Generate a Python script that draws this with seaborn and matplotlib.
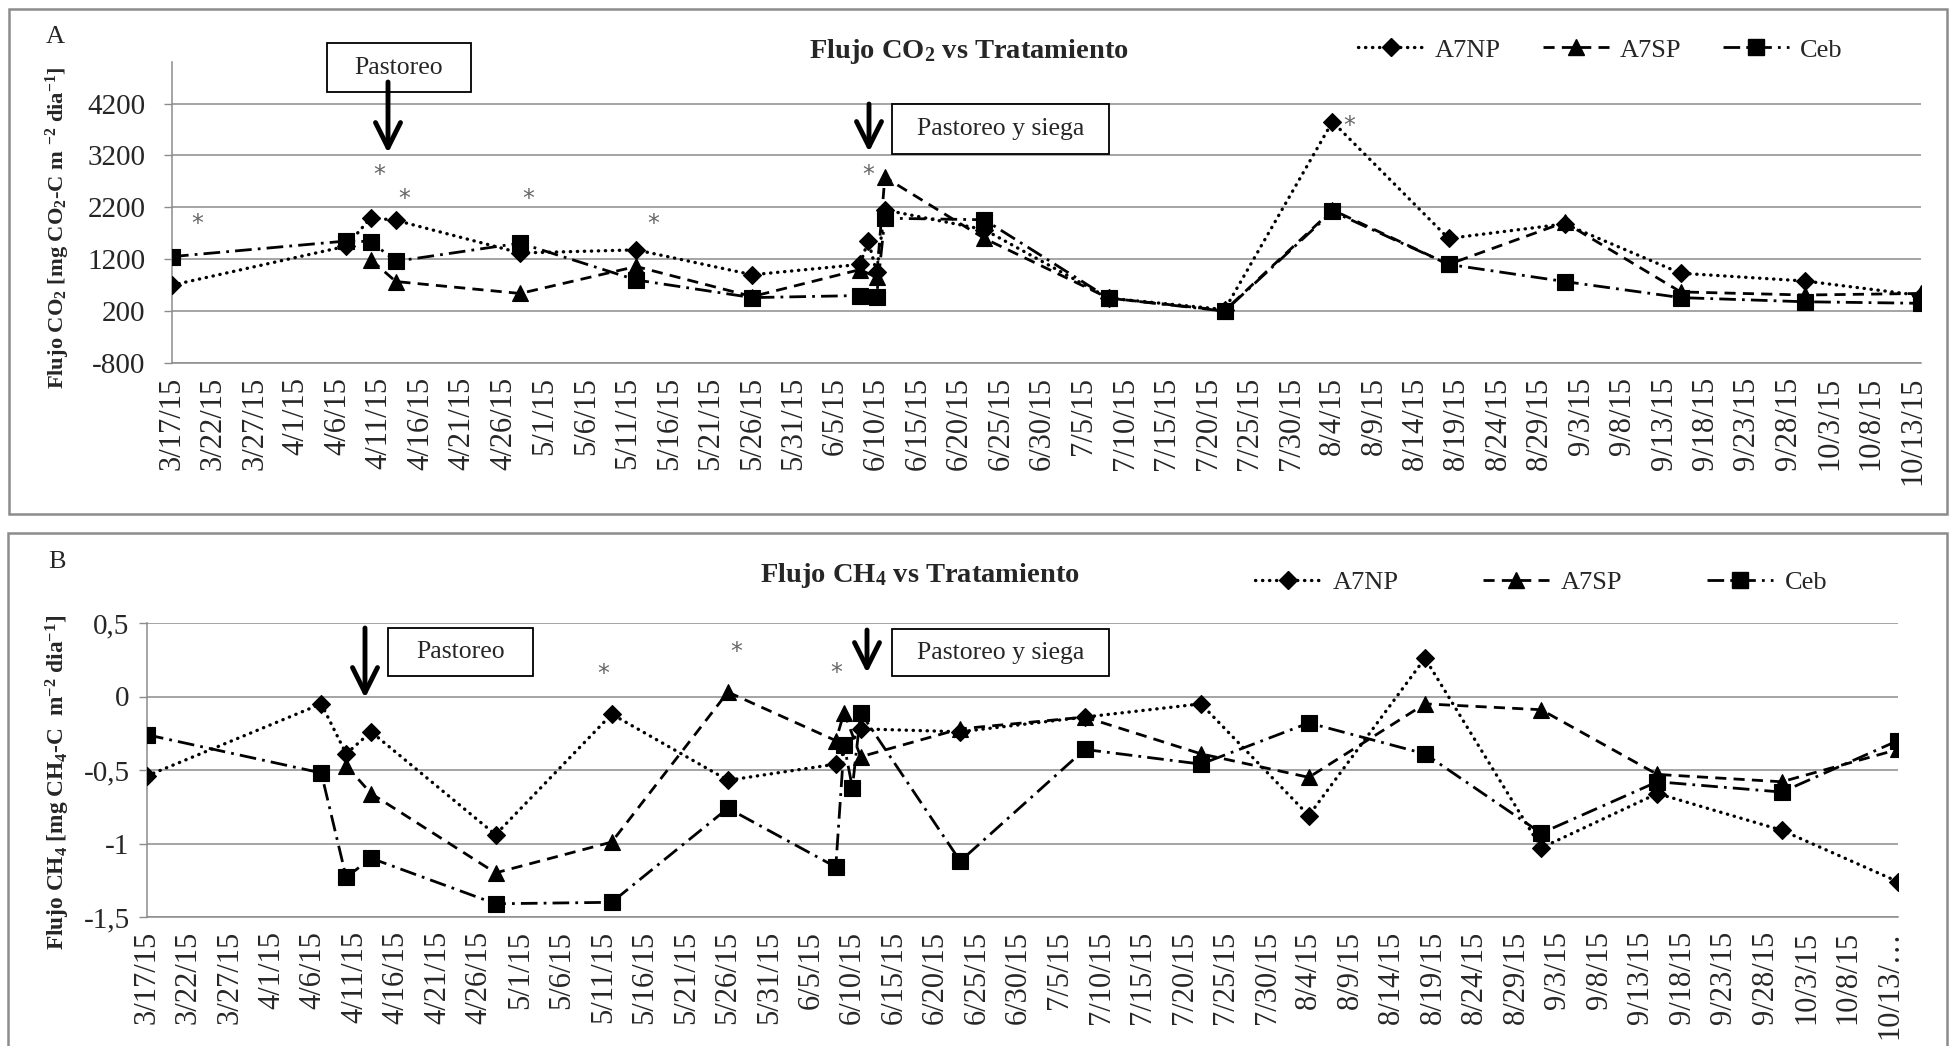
import numpy as np
import pandas as pd
import matplotlib
matplotlib.use("Agg")
import matplotlib.pyplot as plt
import matplotlib.patches as mpatches
import matplotlib.dates as mdates
from matplotlib.lines import Line2D
from matplotlib.ticker import FixedLocator
import seaborn as sns

# ------------------------------------------------------------------ data
series = ["A7NP", "A7SP", "Ceb"]

# Panel A : flujo CO2
co2_a7np_fechas = ["2015-03-17", "2015-04-07", "2015-04-10", "2015-04-13", "2015-04-28",
                   "2015-05-12", "2015-05-26", "2015-06-08", "2015-06-09", "2015-06-10",
                   "2015-06-11", "2015-06-23", "2015-07-08", "2015-07-22", "2015-08-04",
                   "2015-08-18", "2015-09-01", "2015-09-15", "2015-09-30", "2015-10-14"]
co2_a7np = [700, 1450, 2000, 1950, 1320, 1380, 900, 1100, 1560, 950,
            2150, 1770, 450, 230, 3850, 1600, 1880, 930, 780, 500]

co2_a7sp_fechas = ["2015-04-10", "2015-04-13", "2015-04-28", "2015-05-12", "2015-05-26",
                   "2015-06-08", "2015-06-10", "2015-06-11", "2015-06-23", "2015-07-08",
                   "2015-07-22", "2015-08-04", "2015-08-18", "2015-09-01", "2015-09-15",
                   "2015-09-30", "2015-10-14"]
co2_a7sp = [1190, 770, 540, 1060, 480, 1000, 850, 2780, 1600, 450,
            210, 2150, 1100, 1910, 570, 510, 540]

co2_ceb_fechas = ["2015-03-17", "2015-04-07", "2015-04-10", "2015-04-13", "2015-04-28",
                  "2015-05-12", "2015-05-26", "2015-06-08", "2015-06-10", "2015-06-11",
                  "2015-06-23", "2015-07-08", "2015-07-22", "2015-08-04", "2015-08-18",
                  "2015-09-01", "2015-09-15", "2015-09-30", "2015-10-14"]
co2_ceb = [1250, 1550, 1540, 1160, 1510, 800, 460, 500, 480, 1990,
           1960, 450, 200, 2120, 1100, 770, 460, 380, 350]

# Panel B : flujo CH4
ch4_a7np_fechas = ["2015-03-17", "2015-04-07", "2015-04-10", "2015-04-13", "2015-04-28",
                   "2015-05-12", "2015-05-26", "2015-06-08", "2015-06-11", "2015-06-23",
                   "2015-07-08", "2015-07-22", "2015-08-04", "2015-08-18", "2015-09-01",
                   "2015-09-15", "2015-09-30", "2015-10-14"]
ch4_a7np = [-0.54, -0.05, -0.39, -0.24, -0.94, -0.12, -0.57, -0.46, -0.22, -0.24,
            -0.14, -0.05, -0.81, 0.26, -1.03, -0.66, -0.91, -1.26]

ch4_a7sp_fechas = ["2015-04-10", "2015-04-13", "2015-04-28", "2015-05-12", "2015-05-26",
                   "2015-06-08", "2015-06-09", "2015-06-11", "2015-06-23", "2015-07-08",
                   "2015-07-22", "2015-08-04", "2015-08-18", "2015-09-01", "2015-09-15",
                   "2015-09-30", "2015-10-14"]
ch4_a7sp = [-0.47, -0.66, -1.20, -0.99, 0.03, -0.30, -0.11, -0.41, -0.22, -0.14,
            -0.39, -0.55, -0.05, -0.09, -0.53, -0.58, -0.36]

ch4_ceb_fechas = ["2015-03-17", "2015-04-07", "2015-04-10", "2015-04-13", "2015-04-28",
                  "2015-05-12", "2015-05-26", "2015-06-08", "2015-06-09", "2015-06-10",
                  "2015-06-11", "2015-06-23", "2015-07-08", "2015-07-22", "2015-08-04",
                  "2015-08-18", "2015-09-01", "2015-09-15", "2015-09-30", "2015-10-14"]
ch4_ceb = [-0.26, -0.52, -1.23, -1.10, -1.41, -1.40, -0.76, -1.16, -0.33, -0.62,
           -0.11, -1.12, -0.36, -0.46, -0.18, -0.39, -0.93, -0.58, -0.65, -0.30]

# significance marks (*)
co2_ast_fechas = ["2015-03-20", "2015-04-11", "2015-04-14", "2015-04-29", "2015-05-14",
                  "2015-06-09", "2015-08-06"]
co2_ast = [1880, 2830, 2360, 2360, 1880, 2830, 3770]
ch4_ast_fechas = ["2015-05-11", "2015-05-27", "2015-06-08"]
ch4_ast = [0.15, 0.30, 0.16]

co2_yticks = [-800, 200, 1200, 2200, 3200, 4200]
co2_yticklabels = ["-800", "200", "1200", "2200", "3200", "4200"]
ch4_yticks = [-1.5, -1.0, -0.5, 0.0, 0.5]
ch4_yticklabels = ["-1,5", "-1", "-0,5", "0", "0,5"]

fecha_ini, fecha_fin = "2015-03-17", "2015-10-14"

# ------------------------------------------------------------------ style
sns.set_style("white")
plt.rcParams["font.family"] = ["Liberation Serif", "DejaVu Serif"]
plt.rcParams["mathtext.fontset"] = "custom"
plt.rcParams["mathtext.rm"] = "Liberation Serif"
plt.rcParams["mathtext.bf"] = "Liberation Serif:bold"
plt.rcParams["mathtext.it"] = "Liberation Serif:italic"

W, H = 1954, 1046
fig = plt.figure(figsize=(W / 100, H / 100), dpi=100)
fx = lambda px: px / W
fy = lambda py: 1 - py / H

GRAY = "#8c8c8c"
styles = {
    "A7NP": dict(marker="D", markersize=9.5, linestyle=(0, (0.1, 2.0)), dash_capstyle="round", linewidth=2.4),
    "A7SP": dict(marker="^", markersize=12, linestyle=(0, (4.0, 2.6)), linewidth=2.0),
    "Ceb": dict(marker="s", markersize=12, linestyle=(0, (6.0, 2.2, 1.0, 2.2)), linewidth=2.0),
}

axA = fig.add_axes([fx(172), fy(363), 1749 / W, 301 / H])
axB = fig.add_axes([fx(147), fy(917), 1751 / W, 294 / H])

def draw(ax, data):
    for name, fechas, vals in data:
        st = styles[name]
        sns.lineplot(x=pd.to_datetime(fechas), y=vals, ax=ax, color="black",
                     markeredgecolor="black", markeredgewidth=0.8,
                     estimator=None, sort=False, legend=False, zorder=3, **st)

draw(axA, [("A7NP", co2_a7np_fechas, co2_a7np),
           ("A7SP", co2_a7sp_fechas, co2_a7sp),
           ("Ceb", co2_ceb_fechas, co2_ceb)])
draw(axB, [("A7NP", ch4_a7np_fechas, ch4_a7np),
           ("A7SP", ch4_a7sp_fechas, ch4_a7sp),
           ("Ceb", ch4_ceb_fechas, ch4_ceb)])

major = pd.date_range("2015-03-17", "2015-10-13", freq="5D")
minor = pd.date_range(fecha_ini, fecha_fin, freq="1D")
xlabels = [f"{d.month}/{d.day}/15" for d in major]

for ax, yt, ytl, ylim, ypad in [(axA, co2_yticks, co2_yticklabels, (-800, 5000), 13),
                                (axB, ch4_yticks, ch4_yticklabels, (-1.5, 0.5), 6.5)]:
    ax.set_xlim(pd.Timestamp(fecha_ini), pd.Timestamp(fecha_fin))
    ax.set_ylim(*ylim)
    ax.xaxis.set_major_locator(FixedLocator(mdates.date2num(major)))
    ax.xaxis.set_minor_locator(FixedLocator(mdates.date2num(minor)))
    labs = list(xlabels)
    if ax is axB:
        labs[-1] = "10/13/\u2026"
    ax.set_xticklabels(labs, rotation=90, fontsize=22)
    ax.set_yticks(yt)
    ax.set_yticklabels(ytl, fontsize=21)
    ax.set_xlabel("")
    ax.set_ylabel("")
    ax.tick_params(axis="x", which="major", direction="out", length=6, width=1.0, color=GRAY, pad=4)
    ax.tick_params(axis="x", which="minor", direction="in", length=4, width=0.8, color=GRAY)
    ax.tick_params(axis="y", which="major", direction="out", length=6, width=1.0, color=GRAY, pad=ypad, left=True)
    ax.yaxis.grid(True, color=GRAY, linewidth=1.1)
    ax.xaxis.grid(False)
    ax.set_axisbelow(True)
    for s in ["top", "right"]:
        ax.spines[s].set_visible(False)
    for s in ["left", "bottom"]:
        ax.spines[s].set_color(GRAY)
        ax.spines[s].set_linewidth(1.1)
    ax.patch.set_alpha(0)

for ax, fechas, vals in [(axA, co2_ast_fechas, co2_ast), (axB, ch4_ast_fechas, ch4_ast)]:
    for f, v in zip(fechas, vals):
        ax.text(pd.Timestamp(f), v, "*", color="#666666", fontsize=17,
                ha="center", va="center", family="DejaVu Sans", zorder=4)

# ------------------------------------------------------------------ frames
fig.patches.append(mpatches.Rectangle((fx(9), fy(514)), (1947 - 9) / W, (514 - 9) / H,
                                      transform=fig.transFigure, fill=False, ec=GRAY, lw=1.8))
fig.patches.append(mpatches.Rectangle((fx(8), fy(1060)), (1947 - 8) / W, (1060 - 533) / H,
                                      transform=fig.transFigure, fill=False, ec=GRAY, lw=1.8))

fig.text(fx(55), fy(37), "A", fontsize=19, ha="center", va="center")
fig.text(fx(57), fy(562), "B", fontsize=19, ha="center", va="center")

fig.text(fx(969), fy(52), r"Flujo CO$_\mathbf{2}$ vs Tratamiento", fontsize=20.5,
         fontweight="bold", ha="center", va="center")
fig.text(fx(920), fy(575), r"Flujo CH$_\mathbf{4}$ vs Tratamiento", fontsize=20.5,
         fontweight="bold", ha="center", va="center")

fig.text(fx(58), fy(228), r"Flujo CO$_\mathbf{2}$ [mg CO$_\mathbf{2}$-C m $^{\mathbf{-2}}$ dia$^{\mathbf{-1}}$]",
         fontsize=16.2, fontweight="bold", rotation=90, ha="center", va="center")
fig.text(fx(58), fy(782), r"Flujo CH$_\mathbf{4}$ [mg CH$_\mathbf{4}$-C  m$^{\mathbf{-2}}$ dia$^{\mathbf{-1}}$]",
         fontsize=16.8, fontweight="bold", rotation=90, ha="center", va="center")

# ------------------------------------------------------------------ event boxes + arrows
def box(x0, y0, x1, y1, txt):
    fig.patches.append(mpatches.Rectangle((fx(x0), fy(y1)), (x1 - x0) / W, (y1 - y0) / H,
                                          transform=fig.transFigure, fc="white", ec="black", lw=1.3, zorder=5))
    fig.text(fx((x0 + x1) / 2), fy((y0 + y1) / 2), txt, fontsize=18.5, ha="center", va="center", zorder=6)

def arrow(x, y0, y1):
    fig.add_artist(matplotlib.patches.FancyArrowPatch(
        (fx(x), fy(y0)), (fx(x), fy(y1)), transform=fig.transFigure,
        arrowstyle="->,head_length=0.9,head_width=0.45", lw=3.5, color="black",
        mutation_scale=20, shrinkA=0, shrinkB=0, zorder=6))

box(327, 43, 471, 92, "Pastoreo")
arrow(388, 82, 153)
box(892, 104, 1109, 154, "Pastoreo y siega")
arrow(869, 104, 152)
box(388, 628, 533, 676, "Pastoreo")
arrow(365, 628, 698)
box(892, 629, 1109, 676, "Pastoreo y siega")
arrow(867, 630, 673)

# ------------------------------------------------------------------ legends
def handles():
    return [Line2D([], [], color="black", markeredgecolor="black", **styles[n]) for n in series]

fig.legend(handles(), series, loc="center left", bbox_to_anchor=(fx(1358), fy(50)),
           bbox_transform=fig.transFigure, ncol=3, frameon=False, fontsize=19,
           handlelength=2.5, handletextpad=0.4, columnspacing=1.6,
           borderpad=0, borderaxespad=0, numpoints=1)
fig.legend(handles(), series, loc="center left", bbox_to_anchor=(fx(1255), fy(582)),
           bbox_transform=fig.transFigure, ncol=3, frameon=False, fontsize=19,
           handlelength=2.5, handletextpad=0.45, columnspacing=3.2,
           borderpad=0, borderaxespad=0, numpoints=1)

fig.savefig("out.png", dpi=100)
